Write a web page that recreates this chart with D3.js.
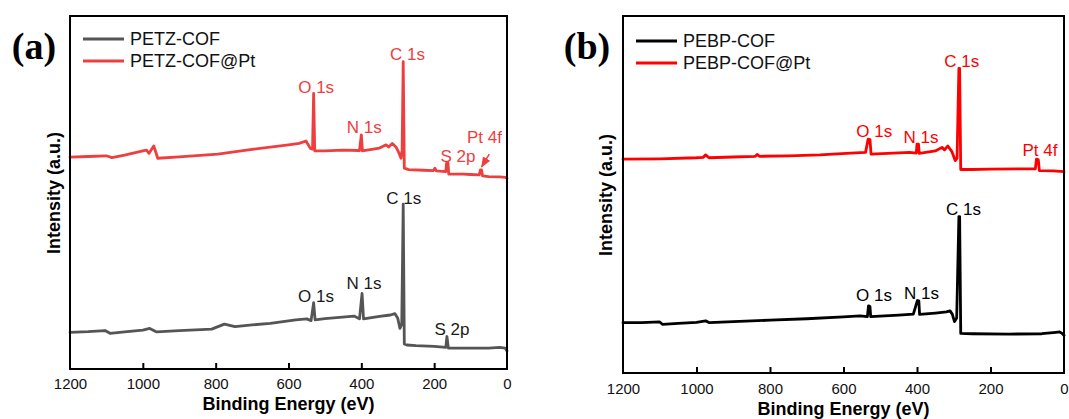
<!DOCTYPE html>
<html><head><meta charset="utf-8">
<script src="https://cdn.jsdelivr.net/npm/d3@7"></script>
<style>
body{margin:0;background:#fff}
svg{display:block}
text{font-family:"Liberation Sans",Arial,Helvetica,sans-serif}
text.tag{font-family:"Liberation Serif","Times New Roman",serif}
</style>
</head><body>
<svg id="chart" width="1069" height="419"></svg>
<script>
// ---------- DATA ----------
const xTicks = [1200, 1000, 800, 600, 400, 200, 0];

// Panel (a) : [binding energy (eV), intensity (a.u.)]
const PETZ_COF = [
 [1200,10.4],[1150,10.6],[1104,10.9],[1090,10.1],[1050,10.5],[1000,11.0],[981,11.5],[962,10.5],
 [900,10.9],[811,11.3],[776,12.7],[747,12.0],[700,12.5],[650,12.9],[580,13.9],[550,14.2],
 [538,13.7],[531,18.8],[527,13.9],[500,14.3],[420,15.0],[405,14.2],[398,21.4],[394,14.2],
 [350,14.9],[320,15.3],[308,15.7],[300,14.4],[294,11.5],[289,12.7],[285,46.7],[282,7.1],
 [275,6.8],[250,6.6],[200,6.4],[168,6.1],[165,9.2],[161,5.9],[100,5.9],[50,5.9],
 [20,6.1],[5,5.9],[0,5.1]
];
const PETZ_COF_PT = [
 [1200,60.0],[1150,60.2],[1100,60.4],[1085,59.9],[1050,60.6],[1000,61.8],[990,62.0],[983,61.1],
 [970,63.2],[959,59.7],[900,60.1],[794,60.9],[700,62.2],[600,63.5],[571,63.9],[552,64.6],
 [540,62.5],[534,62.3],[531,78.1],[528,61.8],[500,61.8],[450,62.0],[405,61.9],[400,66.3],
 [397,61.8],[350,62.6],[332,63.5],[325,62.9],[315,63.9],[305,62.9],[298,61.5],[291,59.7],
 [288,62.0],[285,87.1],[282,56.9],[270,56.5],[230,56.3],[202,56.2],[198,56.9],[194,56.1],
 [168,55.9],[166,58.3],[162,58.3],[160,55.2],[120,55.2],[100,55.1],[76,55.0],[73,56.4],
 [70,56.4],[67,54.7],[50,54.5],[20,54.4],[5,54.3],[0,54.0]
];

// Panel (b)
const PEBP_COF = [
 [1200,14.1],[1150,14.1],[1100,14.3],[1092,13.6],[1050,13.9],[1000,14.2],[975,14.6],[965,14.1],
 [900,14.4],[800,14.8],[700,15.2],[600,15.7],[555,16.0],[535,15.8],[532,18.8],[528,18.6],
 [526,15.8],[450,16.2],[410,16.5],[399,20.3],[395,20.2],[393,16.4],[350,16.8],[320,17.1],
 [310,17.4],[304,16.5],[298,14.4],[292,15.4],[286,43.8],[284,43.8],[281,11.1],[250,11.0],
 [150,10.9],[60,11.0],[22,11.4],[12,11.5],[5,11.1],[0,10.5]
];
const PEBP_COF_PT = [
 [1200,59.9],[1100,60.0],[1000,60.3],[982,60.4],[975,61.1],[966,60.3],[900,60.5],[840,60.7],
 [835,61.2],[828,60.7],[750,60.8],[664,61.1],[580,61.6],[540,61.8],[533,65.5],[528,65.4],
 [525,61.3],[480,61.5],[420,61.8],[402,61.6],[400,64.1],[396,64.1],[394,61.5],[350,62.2],
 [332,63.2],[325,62.5],[316,63.6],[305,62.0],[296,59.5],[291,60.2],[286,85.3],[284,85.3],
 [281,57.0],[250,57.0],[200,57.1],[100,57.2],[78,57.2],[75,59.9],[70,59.8],[67,56.7],
 [30,56.6],[0,56.4]
];

// Peak annotations: [text, energy (eV), intensity (a.u.)]
const labelsPETZ   = [["C 1s",283.6,48.4],["N 1s",392.6,24.3],["O 1s",524.4,20.8],["S 2p",151,11.5]];
const labelsPETZPt = [["O 1s",524,80.0],["N 1s",392,68.6],["C 1s",273,89.2],["S 2p",134.5,60.5],["Pt 4f",62,65.8]];
const arrowPETZPt  = [[48.6,60.9],[69.5,57.3]];
const labelsPEBP   = [["C 1s",273.7,46.1],["O 1s",517,21.8],["N 1s",387.8,22.4]];
const labelsPEBPPt = [["C 1s",278.4,87.4],["O 1s",516.2,67.8],["N 1s",389.1,66.2],["Pt 4f",65.3,62.5]];

// ---------- DRAW ----------
const svg = d3.select("#chart");
const defs = svg.append("defs");
defs.append("marker").attr("id","arrowR").attr("viewBox","0 0 10 10")
  .attr("refX",9).attr("refY",5).attr("markerWidth",7).attr("markerHeight",7)
  .attr("orient","auto-start-reverse")
  .append("path").attr("d","M0,1 L10,5 L0,9 Z").attr("fill","#ef3e3e");

const panels = [
  { tag:"(a)", tagX:34, tagY:59, x0:70, x1:507, y0:16, y1:369,
    yTitleX:54, yTitleY:193, tickPad:9, titleY:404,
    legX:83, legY:39,
    series:[
      {name:"PETZ-COF", data:PETZ_COF, color:"#555555", labelColor:"#1a1a1a", labels:labelsPETZ},
      {name:"PETZ-COF@Pt", data:PETZ_COF_PT, color:"#ef3e3e", labelColor:"#ef3e3e", labels:labelsPETZPt, arrow:arrowPETZPt}
    ]},
  { tag:"(b)", tagX:587, tagY:59, x0:623, x1:1064, y0:16, y1:373,
    yTitleX:606, yTitleY:195, tickPad:10, titleY:409,
    legX:636, legY:41,
    series:[
      {name:"PEBP-COF", data:PEBP_COF, color:"#000000", labelColor:"#000000", labels:labelsPEBP},
      {name:"PEBP-COF@Pt", data:PEBP_COF_PT, color:"#ff0000", labelColor:"#ff0000", labels:labelsPEBPPt}
    ]}
];

panels.forEach(p => {
  const x = d3.scaleLinear().domain([1200, 0]).range([p.x0, p.x1]);
  const y = d3.scaleLinear().domain([0, 100]).range([p.y1, p.y0]);
  const g = svg.append("g");

  const line = d3.line().x(d => x(d[0])).y(d => y(d[1]));

  p.series.forEach(s => {
    g.append("path").datum(s.data)
      .attr("d", line).attr("fill","none").attr("stroke", s.color)
      .attr("stroke-width", 2.8).attr("stroke-linejoin","round").attr("stroke-linecap","round");
    g.selectAll(null).data(s.labels).enter().append("text")
      .attr("x", d => x(d[1])).attr("y", d => y(d[2])).attr("dy","0.36em")
      .attr("text-anchor","middle").attr("font-size",17).attr("fill", s.labelColor)
      .text(d => d[0]);
    if (s.arrow) {
      g.append("line")
        .attr("x1", x(s.arrow[0][0])).attr("y1", y(s.arrow[0][1]))
        .attr("x2", x(s.arrow[1][0])).attr("y2", y(s.arrow[1][1]))
        .attr("stroke", s.color).attr("stroke-width",1.5).attr("marker-end","url(#arrowR)");
    }
  });

  // frame
  g.append("rect").attr("x",p.x0).attr("y",p.y0)
    .attr("width",p.x1-p.x0).attr("height",p.y1-p.y0)
    .attr("fill","none").attr("stroke","#000").attr("stroke-width",2);

  // bottom axis, inward ticks
  const ax = g.append("g").attr("transform",`translate(0,${p.y1})`)
    .call(d3.axisBottom(x).tickValues(xTicks).tickFormat(d3.format("d"))
      .tickSizeInner(-6).tickSizeOuter(0).tickPadding(p.tickPad));
  ax.select(".domain").remove();
  ax.selectAll(".tick line").attr("stroke","#000").attr("stroke-width",2)
    .filter(d => d === 1200 || d === 0).remove();
  ax.selectAll(".tick text").attr("font-size",15).attr("fill","#111");

  svg.append("text").attr("x",(p.x0+p.x1)/2).attr("y",p.titleY).attr("dy","0.36em")
    .attr("text-anchor","middle").attr("font-size",18).attr("font-weight","bold")
    .text("Binding Energy (eV)");
  svg.append("text").attr("transform",`translate(${p.yTitleX},${p.yTitleY}) rotate(-90)`)
    .attr("dy","0.36em").attr("text-anchor","middle").attr("font-size",18).attr("font-weight","bold")
    .text("Intensity (a.u.)");

  svg.append("text").attr("class","tag").attr("x",p.tagX).attr("y",p.tagY).attr("text-anchor","middle")
    .attr("font-weight","bold").attr("font-size",38).text(p.tag);

  // legend
  p.series.forEach((s,i) => {
    const ly = p.legY + i*22;
    svg.append("line").attr("x1",p.legX).attr("x2",p.legX+41).attr("y1",ly).attr("y2",ly)
      .attr("stroke",s.color).attr("stroke-width",3);
    svg.append("text").attr("x",p.legX+47).attr("y",ly).attr("dy","0.36em")
      .attr("font-size",18).attr("fill","#111").text(s.name);
  });
});
</script>
</body></html>
